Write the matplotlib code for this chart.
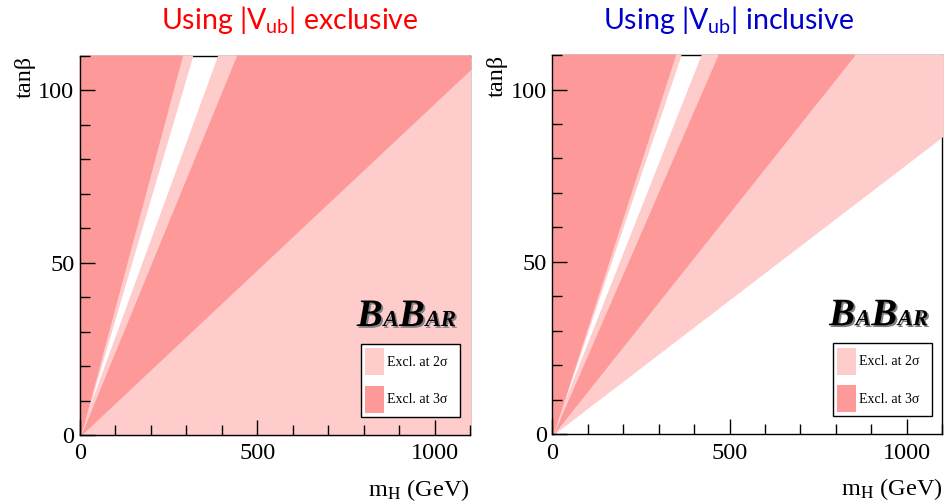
import numpy as np
import matplotlib
matplotlib.use("Agg")
import matplotlib.pyplot as plt
import matplotlib.patheffects as pe
from matplotlib.patches import Patch
from matplotlib.ticker import MultipleLocator
from matplotlib.transforms import offset_copy

serif = "Liberation Serif"
plt.rcParams['font.family'] = serif
plt.rcParams['mathtext.fontset'] = 'custom'
plt.rcParams['mathtext.rm'] = 'Lato'
plt.rcParams['mathtext.it'] = 'Lato:italic'

# plot ranges
mh_max = 1100
tb_max = 110

# region boundaries as slopes tanb/mH, from low to high
# level of each region in between: 0 = allowed, 2 = excl. 2 sigma, 3 = excl. 3 sigma
excl_slopes = [0.0966, 0.251, 0.282, 0.349, 0.3846]
excl_levels = [2, 3, 2, 0, 2, 3]
incl_slopes = [0.0787, 0.1294, 0.2369, 0.2607, 0.305, 0.319]
incl_levels = [0, 2, 3, 2, 0, 2, 3]

titles = ["Using |V$_{\\mathrm{ub}}$| exclusive", "Using |V$_{\\mathrm{ub}}$| inclusive"]
title_colors = ["#ff0000", "#0000cc"]
legend_labels = ["Excl. at 2σ", "Excl. at 3σ"]
level_colors = {2: "#ffcccc", 3: "#fe9999"}

fig = plt.figure(figsize=(9.47, 5.03), dpi=100)
renderer = fig.canvas.get_renderer()


def babar(ax, x, y):
    # BaBar logo: big and small italic caps one after the other, with a grey shadow
    parts = [("B", 28), ("A", 16.5), ("B", 28), ("AR", 16.5)]
    shadow = [pe.withSimplePatchShadow(offset=(1.3, -1.3), shadow_rgbFace='#808080', alpha=1)]
    tr = ax.transAxes
    for s, size in parts:
        t = ax.text(x, y, s, transform=tr, fontsize=size, family=serif,
                    weight='bold', style='italic', color='black', zorder=4,
                    path_effects=shadow)
        w = t.get_window_extent(renderer).width
        tr = offset_copy(tr, fig=fig, x=w + 0.5, y=0, units='dots')


def panel(rect, slopes, levels, title, tcolor, tx):
    ax = fig.add_axes(rect)
    ax.set_xlim(0, mh_max)
    ax.set_ylim(0, tb_max)

    x = np.linspace(0, mh_max, 4401)
    bounds = [0] + slopes + [1e9]
    for i, lev in enumerate(levels):
        if lev == 0:
            continue
        lo = np.minimum(bounds[i] * x, tb_max)
        hi = np.minimum(bounds[i + 1] * x, tb_max)
        c = level_colors[lev]
        ax.fill_between(x, lo, hi, where=hi > lo, facecolor=c, edgecolor=c,
                        lw=1.3, zorder=1, clip_on=False)

    for s in ['top', 'right']:
        ax.spines[s].set_zorder(0.5)
    for s in ax.spines.values():
        s.set_linewidth(1.0)

    ax.set_xticks([0, 500, 1000])
    ax.set_yticks([0, 50, 100])
    ax.xaxis.set_minor_locator(MultipleLocator(100))
    ax.yaxis.set_minor_locator(MultipleLocator(10))
    ax.tick_params(which='both', direction='in', top=False, right=False, width=1,
                   labelsize=17.5)
    ax.tick_params(which='major', length=11)
    ax.tick_params(which='minor', length=7)
    ax.tick_params(axis='x', pad=6)
    ax.tick_params(axis='y', pad=4)

    ax.text(-0.141, 1.0, "tanβ", transform=ax.transAxes, rotation=90,
            ha='center', va='top', family=serif, fontsize=17.5)
    ax.text(1.0, -0.161, r"m$_{\mathrm{H}}$ (GeV)", transform=ax.transAxes,
            ha='right', va='baseline', family=serif, fontsize=17.5,
            math_fontfamily='stix')

    handles = [Patch(facecolor=level_colors[2], edgecolor='none'),
               Patch(facecolor=level_colors[3], edgecolor='none')]
    leg = ax.legend(handles, legend_labels, loc='lower left', mode='expand',
                    bbox_to_anchor=(0.7205, 0.0483, 0.254, 0.2),
                    frameon=True, fancybox=False,
                    edgecolor='black', framealpha=1, borderpad=0.3,
                    handlelength=1.35, handleheight=2.6, handletextpad=0.2,
                    labelspacing=0.75, borderaxespad=0,
                    prop={'family': serif, 'size': 10})
    leg.get_frame().set_linewidth(1.0)
    leg.set_zorder(5)

    babar(ax, 0.71, 0.2876)

    fig.text(tx, 0.9417, title, color=tcolor, family='Lato', fontsize=20.5,
             ha='center', va='baseline')
    return ax


panel([0.0845, 0.1352, 0.4118, 0.7535], excl_slopes, excl_levels,
      titles[0], title_colors[0], 0.306)
panel([0.5832, 0.1366, 0.4118, 0.754], incl_slopes, incl_levels,
      titles[1], title_colors[1], 0.769)

fig.savefig("out.png", dpi=100)
